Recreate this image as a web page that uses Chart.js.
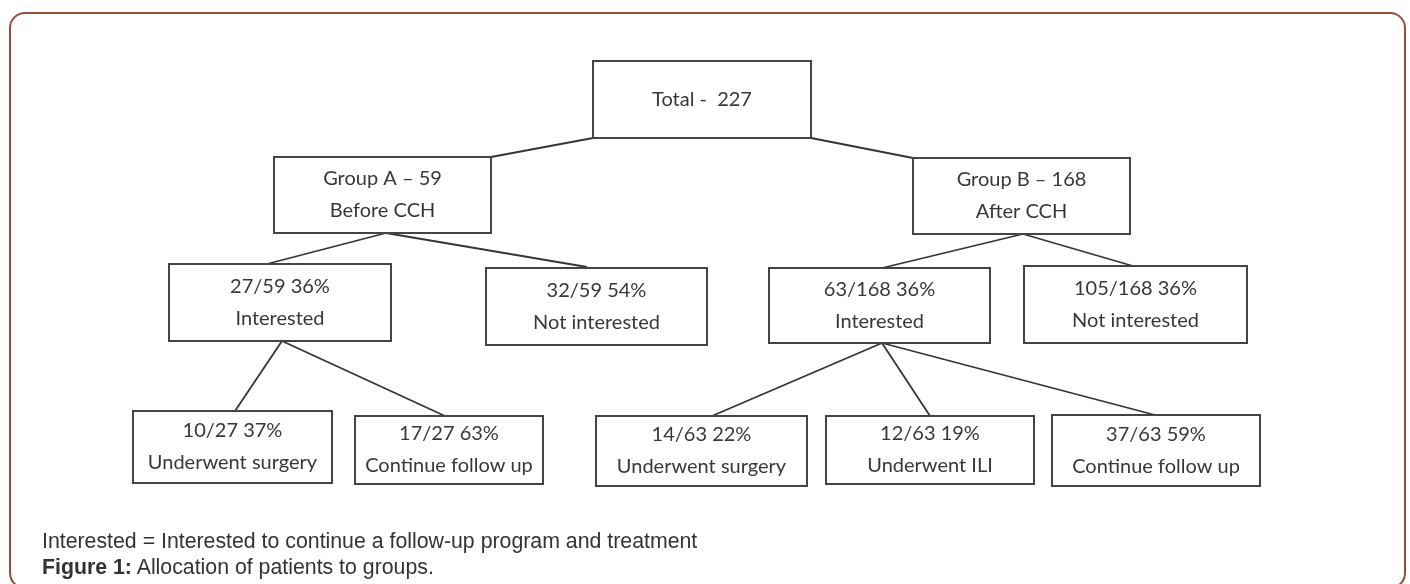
<!DOCTYPE html>
<html>
<head>
<meta charset="utf-8">
<script src="https://cdn.jsdelivr.net/npm/chart.js@4"></script>
<style>
  html, body { margin: 0; padding: 0; background: #fff; }
  body { width: 1410px; height: 584px; position: relative; overflow: hidden; }
  #frame {
    position: absolute; left: 9px; top: 12px; width: 1397px; height: 577px;
    border: 2px solid #934d3c; border-radius: 16px; box-sizing: border-box;
  }
  #chart { position: absolute; left: 0; top: 0; }
  .cap {
    position: absolute; left: 42px; font-family: "Liberation Sans", Arial, sans-serif;
    font-size: 21.3px; color: #333; white-space: nowrap; line-height: 26px;
  }
</style>
</head>
<body>
<div id="frame"></div>
<canvas id="chart" width="1410" height="584"></canvas>
<div class="cap" style="top:528px">Interested = Interested to continue a follow-up program and treatment</div>
<div class="cap" style="top:554px"><b>Figure 1:</b> Allocation of patients to groups.</div>
<script>
// nodes of the tree (diagram units = page pixels)
const nodeText = [
  ['Total -  227'],
  ['Group A \u2013 59', 'Before CCH'],
  ['Group B \u2013 168', 'After CCH'],
  ['27/59 36%', 'Interested'],
  ['32/59 54%', 'Not interested'],
  ['63/168 36%', 'Interested'],
  ['105/168 36%', 'Not interested'],
  ['10/27 37%', 'Underwent surgery'],
  ['17/27 63%', 'Continue follow up'],
  ['14/63 22%', 'Underwent surgery'],
  ['12/63 19%', 'Underwent ILI'],
  ['37/63 59%', 'Continue follow up']
];
const nodeLeft   = [593, 274, 913, 169, 486, 769, 1024, 133, 355, 596, 826, 1052];
const nodeTop    = [61, 157, 158, 264, 268, 268, 266, 411, 416, 416, 416, 415];
const nodeRight  = [811, 491, 1130, 391, 707, 990, 1247, 332, 543, 807, 1034, 1260];
const nodeBottom = [138, 233, 234, 341, 345, 343, 343, 483, 484, 486, 484, 486];

// connector segments
const edgeFrom = [[593,138],[811,138],[386,233],[386,233],[1023,234],[1023,234],[282,341],[282,341],[882,343],[882,343],[882,343]];
const edgeTo   = [[491,157],[913,158],[263,265],[587,267],[882,268],[1133,266],[235,411],[445,416],[712,416],[930,416],[1155,415]];

const edgeSets = edgeFrom.map((f, i) => ({
  data: [{x: f[0], y: f[1]}, {x: edgeTo[i][0], y: edgeTo[i][1]}],
  showLine: true,
  borderColor: '#353535',
  borderWidth: 1.8,
  pointRadius: 0,
  fill: false
}));

// boxes + text drawn through the scales
const boxPlugin = {
  id: 'boxes',
  afterDatasetsDraw(chart) {
    const ctx = chart.ctx;
    const xs = chart.scales.x, ys = chart.scales.y;
    ctx.save();
    for (let i = 0; i < nodeText.length; i++) {
      const x0 = xs.getPixelForValue(nodeLeft[i]);
      const x1 = xs.getPixelForValue(nodeRight[i]);
      const y0 = ys.getPixelForValue(nodeTop[i]);
      const y1 = ys.getPixelForValue(nodeBottom[i]);
      ctx.fillStyle = '#fff';
      ctx.fillRect(x0, y0, x1 - x0, y1 - y0);
      ctx.strokeStyle = '#444';
      ctx.lineWidth = 2;
      ctx.strokeRect(x0, y0, x1 - x0, y1 - y0);
      ctx.fillStyle = '#383838';
      ctx.font = '20px Lato, "DejaVu Sans Condensed", sans-serif';
      ctx.textAlign = 'center';
      ctx.textBaseline = 'middle';
      const cx = (x0 + x1) / 2, cy = (y0 + y1) / 2;
      const lines = nodeText[i];
      lines.forEach((t, k) => {
        const off = lines.length === 1 ? 0 : (k === 0 ? -16 : 16);
        ctx.fillText(t, cx, cy + off);
      });
    }
    ctx.restore();
  }
};

new Chart(document.getElementById('chart'), {
  type: 'scatter',
  data: { datasets: edgeSets },
  options: {
    responsive: false,
    animation: false,
    layout: { padding: 0 },
    plugins: { legend: { display: false }, tooltip: { enabled: false } },
    scales: {
      x: { type: 'linear', min: 0, max: 1410, display: false },
      y: { type: 'linear', min: 0, max: 584, reverse: true, display: false }
    }
  },
  plugins: [boxPlugin]
});
</script>
</body>
</html>
